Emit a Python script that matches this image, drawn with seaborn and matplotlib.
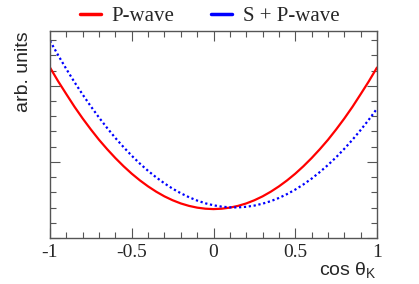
import numpy as np
import pandas as pd
import matplotlib
matplotlib.use("Agg")
import matplotlib.pyplot as plt
import seaborn as sns
from matplotlib.ticker import MultipleLocator
from matplotlib.lines import Line2D

# values, cos(theta_K) in steps of 0.05
cos_theta = [-1.0, -0.95, -0.9, -0.85, -0.8, -0.75, -0.7, -0.65, -0.6, -0.55,
             -0.5, -0.45, -0.4, -0.35, -0.3, -0.25, -0.2, -0.15, -0.1, -0.05,
             0.0, 0.05, 0.1, 0.15, 0.2, 0.25, 0.3, 0.35, 0.4, 0.45,
             0.5, 0.55, 0.6, 0.65, 0.7, 0.75, 0.8, 0.85, 0.9, 0.95, 1.0]
p_wave = [2.24, 2.059, 1.89, 1.724, 1.57, 1.426, 1.29, 1.166, 1.05, 0.943,
          0.845, 0.757, 0.678, 0.608, 0.547, 0.496, 0.454, 0.422, 0.399, 0.385,
          0.38, 0.385, 0.399, 0.422, 0.454, 0.496, 0.547, 0.608, 0.678, 0.757,
          0.845, 0.943, 1.05, 1.166, 1.29, 1.426, 1.57, 1.724, 1.89, 2.059, 2.24]
sp_wave = [2.59, 2.401, 2.22, 2.047, 1.884, 1.729, 1.582, 1.444, 1.314, 1.194,
           1.081, 0.977, 0.882, 0.796, 0.718, 0.648, 0.588, 0.536, 0.492, 0.456,
           0.43, 0.412, 0.403, 0.402, 0.41, 0.426, 0.451, 0.484, 0.526, 0.577,
           0.636, 0.704, 0.78, 0.866, 0.959, 1.061, 1.172, 1.291, 1.419, 1.555, 1.70]
series_names = ["P-wave", "S + P-wave"]
x_ticklabels = ["-1", "-0.5", "0", "0.5", "1"]


def main():
    sns.set_style("ticks")
    plt.rcParams['axes.unicode_minus'] = False
    plt.rcParams['font.family'] = ['Liberation Serif', 'DejaVu Serif']
    plt.rcParams['mathtext.fontset'] = 'custom'
    plt.rcParams['mathtext.rm'] = 'Liberation Sans'
    plt.rcParams['mathtext.it'] = 'Liberation Sans'

    df = pd.DataFrame({
        "x": cos_theta * 2,
        "y": p_wave + sp_wave,
        "curve": [series_names[0]] * len(cos_theta) + [series_names[1]] * len(cos_theta),
    })

    fig = plt.figure(figsize=(4.19, 2.84), dpi=100)
    ax = fig.add_axes([50 / 419, 1 - 238 / 284, 327 / 419, 207 / 284])

    sns.lineplot(data=df, x="x", y="y", hue="curve", style="curve",
                 palette={"P-wave": "#ff0000", "S + P-wave": "#0000ff"},
                 dashes={"P-wave": "", "S + P-wave": (1, 1.2)},
                 linewidth=1.6, ax=ax, legend=False)

    ax.set_xlim(-1, 1)
    ax.set_ylim(0, 2.72)
    ax.xaxis.set_minor_locator(MultipleLocator(0.1))
    ax.yaxis.set_major_locator(MultipleLocator(1.0))
    ax.yaxis.set_minor_locator(MultipleLocator(0.2))
    ax.set_xticks([-1, -0.5, 0, 0.5, 1])
    ax.set_xticklabels(x_ticklabels)
    ax.set_yticklabels([])
    ax.tick_params(which="both", direction="in", top=True, right=True,
                   color="#555555", width=0.8, labelsize=14, pad=4)
    ax.tick_params(which="major", length=7)
    ax.tick_params(which="minor", length=4)
    for s in ax.spines.values():
        s.set_color("#555555")
        s.set_linewidth(1.0)

    ax.set_xlabel(r"cos $\theta_{K}$", family="Liberation Sans", fontsize=14)
    ax.xaxis.set_label_coords(1.0, -0.105)
    ax.xaxis.label.set_ha("right")
    ax.xaxis.label.set_va("top")
    ax.set_ylabel("arb. units", family="Liberation Sans", fontsize=14)
    ax.yaxis.set_label_coords(-0.055, 1.0)
    ax.yaxis.label.set_ha("right")

    handles = [Line2D([], [], color="#ff0000", lw=2.5),
               Line2D([], [], color="#0000ff", lw=2.5)]
    fig.legend(handles, series_names, ncol=2, frameon=False, fontsize=15,
               loc="center", bbox_to_anchor=(0.5, 1 - 16 / 284),
               handlelength=1.0, handletextpad=0.5, columnspacing=1.8)

    fig.savefig("out.png", dpi=100)
    plt.close(fig)


if __name__ == '__main__':
    main()
